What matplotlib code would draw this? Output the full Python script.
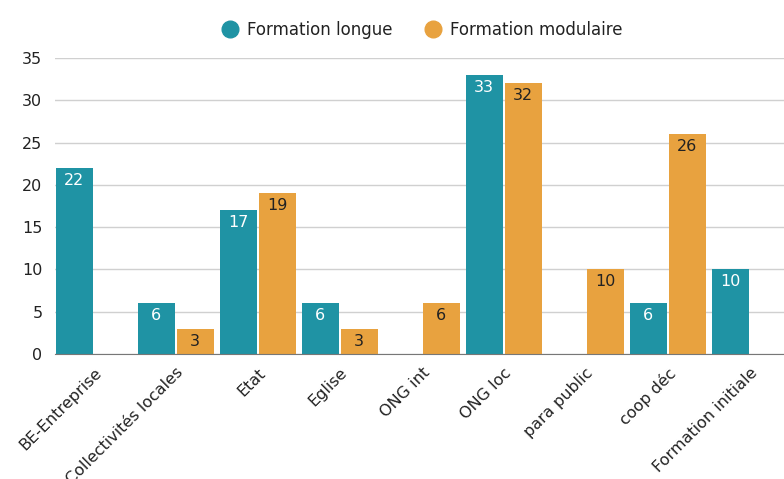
import matplotlib
matplotlib.use("Agg")
import matplotlib.pyplot as plt
import numpy as np

categories = ["BE-Entreprise", "Collectivités locales", "Etat", "Eglise", "ONG int",
              "ONG loc", "para public", "coop déc", "Formation initiale"]
longue = [22, 6, 17, 6, 0, 33, 0, 6, 10]
modulaire = [0, 3, 19, 3, 6, 32, 10, 26, 0]
series_names = ["Formation longue", "Formation modulaire"]
yticks = [0, 5, 10, 15, 20, 25, 30, 35]

teal = "#1f93a4"
orange = "#e8a23f"

plt.rcParams['font.family'] = ['DejaVu Sans']

fig = plt.figure(figsize=(7.84, 4.79), dpi=100)
ax = fig.add_axes([0.070, 0.261, 0.930, 0.618])

x = np.arange(len(categories))
w = 0.45
gap = 0.025
for vals, col, off, tcol in [(longue, teal, -(w + gap) / 2, "white"),
                             (modulaire, orange, (w + gap) / 2, "#222222")]:
    bars = ax.bar(x + off, vals, width=w, color=col, zorder=3)
    for b, v in zip(bars, vals):
        if v > 0:
            ax.text(b.get_x() + b.get_width() / 2, v - 0.6, str(v), ha="center", va="top",
                    color=tcol, fontsize=11.5, zorder=4)

ax.set_xlim(-0.475, 8.42)
ax.set_ylim(0, 35)
ax.set_yticks(yticks)
ax.set_yticklabels([str(t) for t in yticks], fontsize=11.5, color="#222222")
ax.set_xticks(x)
ax.set_xticklabels(categories, rotation=45, ha="right", rotation_mode="anchor",
                   fontsize=11.5, color="#222222")
ax.tick_params(axis="both", length=0)
ax.tick_params(axis="y", pad=9)
ax.tick_params(axis="x", pad=8)
ax.grid(axis="y", color="#d0d0d0", linewidth=1, zorder=0)
for s in ["left", "right", "top"]:
    ax.spines[s].set_visible(False)
ax.spines["bottom"].set_color("#777777")
ax.spines["bottom"].set_zorder(5)

handles = [plt.Line2D([], [], marker="o", linestyle="", markersize=12, color=c)
           for c in (teal, orange)]
fig.legend(handles, series_names, loc="upper center", bbox_to_anchor=(0.533, 0.988),
           ncol=2, frameon=False, fontsize=12, handletextpad=0.05, columnspacing=1.4,
           labelcolor="#222222")

fig.savefig("out.png", dpi=100)
